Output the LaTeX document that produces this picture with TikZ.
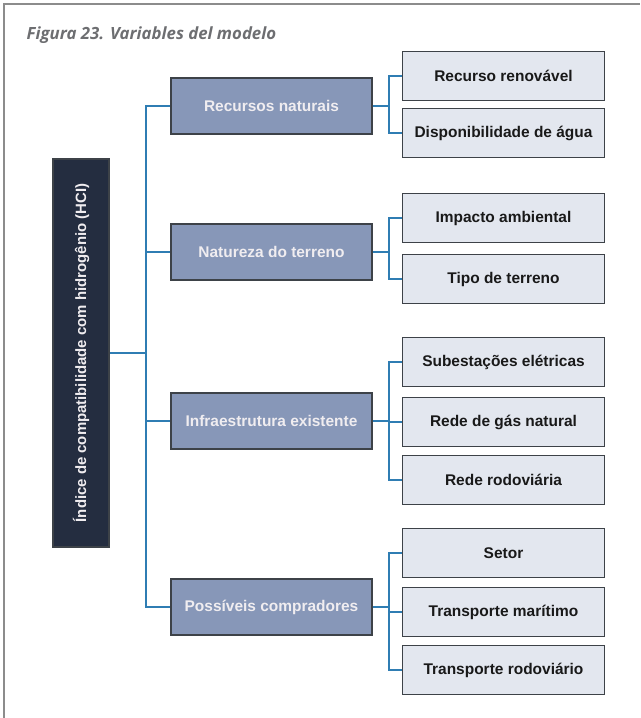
\documentclass[tikz,border=0pt]{standalone}
\usepackage{fontspec}
\usepackage{graphicx}
\setmainfont{Liberation Sans}
\newfontfamily\capfont{Open Sans}
\definecolor{framegray}{HTML}{8C8C8C}
\definecolor{navy}{HTML}{242D40}
\definecolor{topicfill}{HTML}{8797B8}
\definecolor{itemfill}{HTML}{E3E7EF}
\definecolor{edgegray}{HTML}{3D4248}
\definecolor{linkblue}{HTML}{2F7DB3}
\definecolor{pale}{HTML}{F0EDF0}
\definecolor{captext}{HTML}{6D6E71}

\begin{document}
\begin{tikzpicture}[x=0.75pt, y=-0.75pt,
   rootbox/.style={draw=edgegray, fill=navy, line width=1.4pt, minimum width=42pt, minimum height=291pt,
      text=pale, font=\bfseries\fontsize{11.2}{13}\selectfont},
   topic/.style={draw=edgegray, fill=topicfill, line width=1.4pt, minimum width=150.75pt, minimum height=42pt,
      text=pale, font=\bfseries\fontsize{11.6}{13}\selectfont},
   item/.style={draw=edgegray, fill=itemfill, line width=1.4pt, minimum width=151.5pt, minimum height=36.75pt,
      text=black!90, font=\bfseries\fontsize{11.6}{13}\selectfont},
   link/.style={draw=linkblue, line width=1.5pt}]

   \useasboundingbox (0,0) rectangle (640,718);
   \draw [framegray, line width=1.5pt] (4,718) -- (4,4) -- (640,4);

   \node [anchor=base west, text=captext, font=\capfont\bfseries\itshape\fontsize{12.6}{14}\selectfont]
      (caption) at (22,39) {Figura 23. Variables del modelo};

   \node [rootbox] (root) at (81,353) {\rotatebox{90}{Índice de compatibilidade com hidrogênio (HCI)}};
   \coordinate (trunk) at (146,353);
   \draw [link] (root.east) -- (trunk);

   \foreach \y/\t/\n in {106/RN/Recursos naturais, 252/NT/Natureza do terreno,
                        421/IE/Infraestrutura existente, 607/PC/Possíveis compradores}
   {
     \node [topic] (v\t) at (271.5,\y) {\n};
     \draw [link] (trunk) |- (v\t.west);
   }

   \foreach \y/\t/\p/\n in {76/R1/RN/Recurso renovável, 133/R2/RN/Disponibilidade de água,
                           218/N1/NT/Impacto ambiental, 279/N2/NT/Tipo de terreno,
                           362/I1/IE/Subestações elétricas, 422/I2/IE/Rede de gás natural, 480/I3/IE/Rede rodoviária,
                           553/P1/PC/Setor, 612/P2/PC/Transporte marítimo, 670/P3/PC/Transporte rodoviário}
   {
     \node [item] (w\t) at (503.5,\y) {\n};
     \draw [link] (v\p.east) -- ++(16,0) |- (w\t.west);
   }

\end{tikzpicture}
\end{document}
